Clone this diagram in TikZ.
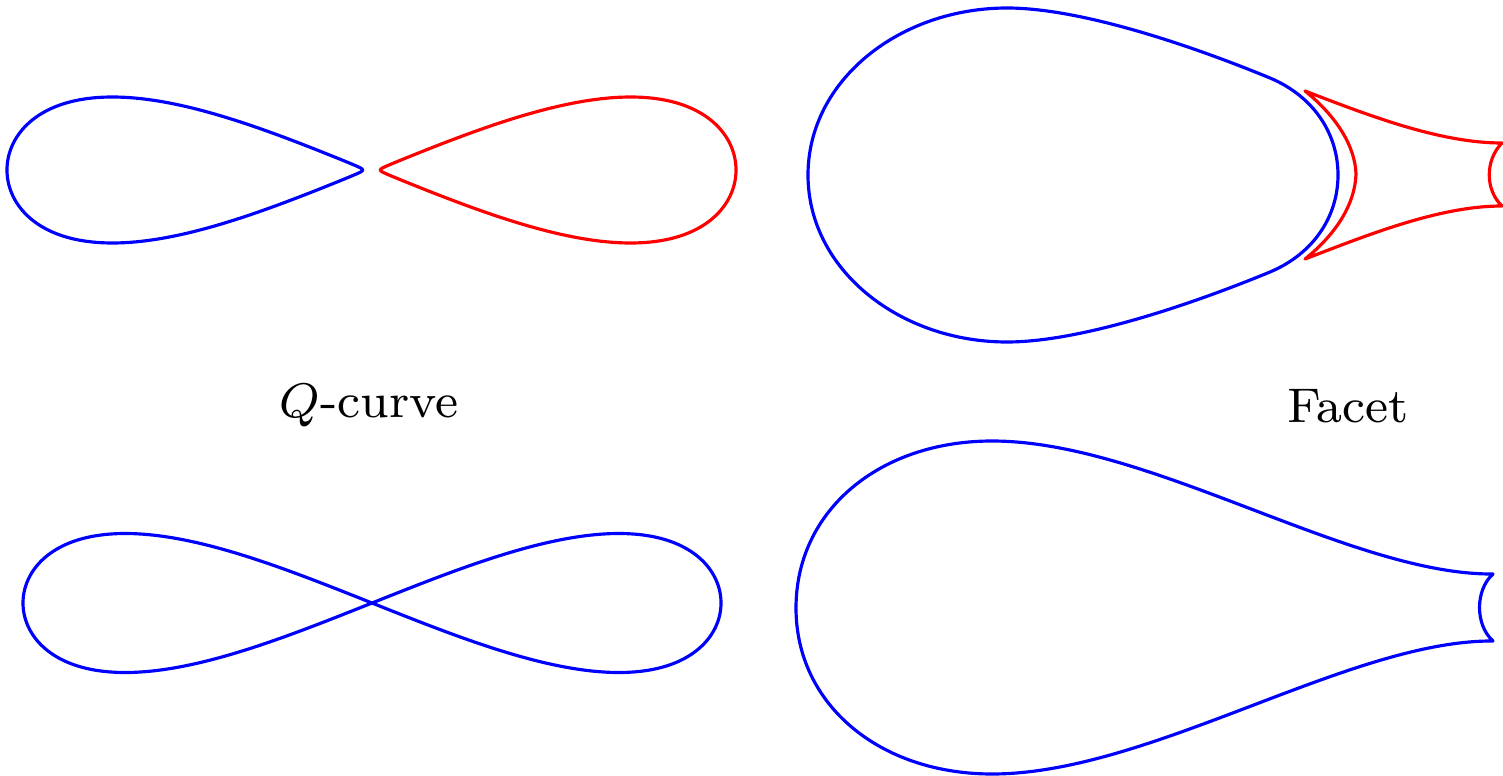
\documentclass[tikz,border=0pt]{standalone}
\begin{document}
\begin{tikzpicture}[x=0.01cm,y=-0.01cm,
  curve/.style={line width=0.9pt,line join=round,line cap=round},
  bluec/.style={curve,draw=blue},
  redc/.style={curve,draw=red},
  lbl/.style={inner sep=0pt}]
\useasboundingbox (0,0) rectangle (1503,776);
\clip (0,0) rectangle (1503,776);
% top-left: two lobes
\draw[bluec] plot[domain=-90:90,samples=241,variable=\t]
  ({363-100*sqrt((3.6*cos(\t))^2+0.0016)+4},{170-146*sin(\t)*cos(\t)});
\draw[redc] plot[domain=-90:90,samples=241,variable=\t]
  ({380+100*sqrt((3.6*cos(\t))^2+0.0016)-4},{170-146*sin(\t)*cos(\t)});
% bottom-left: figure eight
\draw[bluec] plot[domain=0:360,samples=361,variable=\t]
  ({372+349*cos(\t)},{603-139*sin(\t)*cos(\t)}) -- cycle;
% labels
\node[lbl] (lq) at (369,406) {\scalebox{1.73}{\fontsize{8}{9.6}\selectfont $Q$-curve}};
\node[lbl] (lf) at (1348,406) {\scalebox{1.73}{\fontsize{8}{9.6}\selectfont Facet}};
% top-right blue
\draw[bluec] (808,175) .. controls (808,80) and (900,8) .. (1007,8)
  .. controls (1080,8) and (1190,45) .. (1270,78)
  .. controls (1315,97) and (1338,135) .. (1338,175)
  .. controls (1338,215) and (1315,253) .. (1270,272)
  .. controls (1190,305) and (1080,342) .. (1007,342)
  .. controls (900,342) and (808,270) .. (808,175) -- cycle;
% top-right red
\draw[redc] (1305,91) .. controls (1370,116) and (1440,143) .. (1502,143)
  .. controls (1485,160) and (1485,190) .. (1502,206)
  .. controls (1440,206) and (1370,234) .. (1305,259)
  .. controls (1335,235) and (1355,205) .. (1356,174)
  .. controls (1355,145) and (1335,115) .. (1305,91) -- cycle;
% bottom-right blue
\draw[bluec] (1493,574) .. controls (1350,575) and (1150,441) .. (992,441)
  .. controls (880,441) and (796,510) .. (796,608)
  .. controls (796,705) and (880,774) .. (992,774)
  .. controls (1150,774) and (1350,640) .. (1493,641)
  .. controls (1475,625) and (1475,590) .. (1493,574) -- cycle;
\end{tikzpicture}
\end{document}
